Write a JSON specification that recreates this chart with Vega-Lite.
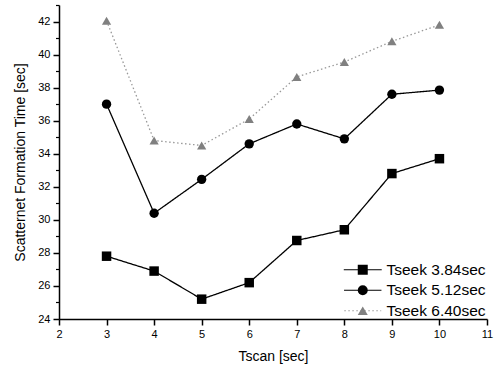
{
  "$schema": "https://vega.github.io/schema/vega-lite/v6.json",
  "width": 428,
  "height": 314,
  "autosize": {"type": "none"},
  "padding": {"left": 59, "top": 5, "right": 10, "bottom": 51},
  "background": "white",
  "config": {
    "view": {"stroke": null},
    "font": "Liberation Sans",
    "axis": {
      "grid": false,
      "domainColor": "#000",
      "domainWidth": 1.5,
      "tickColor": "#000",
      "tickWidth": 1.5,
      "tickSize": 6,
      "labelColor": "#000",
      "labelFontSize": 11,
      "labelFont": "Liberation Sans",
      "titleColor": "#000",
      "titleFontSize": 14,
      "titleFontWeight": "normal",
      "titleFont": "Liberation Sans"
    },
    "legend": {"labelFont": "Liberation Sans"}
  },
  "data": {
    "values": [
      {"tscan": 3, "time": 27.8, "series": "Tseek 3.84sec"},
      {"tscan": 4, "time": 26.9, "series": "Tseek 3.84sec"},
      {"tscan": 5, "time": 25.2, "series": "Tseek 3.84sec"},
      {"tscan": 6, "time": 26.2, "series": "Tseek 3.84sec"},
      {"tscan": 7, "time": 28.75, "series": "Tseek 3.84sec"},
      {"tscan": 8, "time": 29.4, "series": "Tseek 3.84sec"},
      {"tscan": 9, "time": 32.8, "series": "Tseek 3.84sec"},
      {"tscan": 10, "time": 33.7, "series": "Tseek 3.84sec"},
      {"tscan": 3, "time": 37.0, "series": "Tseek 5.12sec"},
      {"tscan": 4, "time": 30.4, "series": "Tseek 5.12sec"},
      {"tscan": 5, "time": 32.45, "series": "Tseek 5.12sec"},
      {"tscan": 6, "time": 34.6, "series": "Tseek 5.12sec"},
      {"tscan": 7, "time": 35.8, "series": "Tseek 5.12sec"},
      {"tscan": 8, "time": 34.9, "series": "Tseek 5.12sec"},
      {"tscan": 9, "time": 37.6, "series": "Tseek 5.12sec"},
      {"tscan": 10, "time": 37.85, "series": "Tseek 5.12sec"},
      {"tscan": 3, "time": 42.05, "series": "Tseek 6.40sec"},
      {"tscan": 4, "time": 34.8, "series": "Tseek 6.40sec"},
      {"tscan": 5, "time": 34.5, "series": "Tseek 6.40sec"},
      {"tscan": 6, "time": 36.1, "series": "Tseek 6.40sec"},
      {"tscan": 7, "time": 38.65, "series": "Tseek 6.40sec"},
      {"tscan": 8, "time": 39.55, "series": "Tseek 6.40sec"},
      {"tscan": 9, "time": 40.8, "series": "Tseek 6.40sec"},
      {"tscan": 10, "time": 41.8, "series": "Tseek 6.40sec"}
    ]
  },
  "layer": [
    {
      "mark": {"type": "line", "strokeWidth": 1.3},
      "encoding": {
        "x": {
          "field": "tscan", "type": "quantitative",
          "scale": {"domain": [2, 11], "nice": false, "zero": false},
          "axis": {"values": [2, 3, 4, 5, 6, 7, 8, 9, 10, 11], "title": "Tscan [sec]", "labelFlush": false, "labelPadding": 3, "titlePadding": 10}
        },
        "y": {
          "field": "time", "type": "quantitative",
          "scale": {"domain": [24, 43], "nice": false, "zero": false},
          "axis": {"values": [24, 26, 28, 30, 32, 34, 36, 38, 40, 42], "title": "Scatternet Formation Time [sec]", "orient": "left", "labelFlush": false, "labelPadding": 3, "titlePadding": 10}
        },
        "color": {
          "field": "series", "type": "nominal",
          "scale": {"domain": ["Tseek 3.84sec", "Tseek 5.12sec", "Tseek 6.40sec"], "range": ["#000000", "#000000", "#999999"]},
          "legend": {"title": null, "orient": "none", "legendX": 296, "legendY": 257, "padding": 0, "symbolType": "M-4,0H4", "symbolSize": 100, "symbolStrokeWidth": 1.2, "labelOffset": 16, "labelFontSize": 15.5, "labelColor": "#000", "rowPadding": 3.5}
        },
        "strokeDash": {
          "field": "series", "type": "nominal",
          "scale": {"domain": ["Tseek 3.84sec", "Tseek 5.12sec", "Tseek 6.40sec"], "range": [[1, 0], [1, 0], [1.5, 2.5]]},
          "legend": {"title": null, "orient": "none", "legendX": 296, "legendY": 257, "padding": 0, "symbolType": "M-4,0H4", "symbolSize": 100, "symbolStrokeWidth": 1.2, "labelOffset": 16, "labelFontSize": 15.5, "labelColor": "#000", "rowPadding": 3.5}
        }
      }
    },
    {
      "mark": {"type": "point", "filled": true, "opacity": 1},
      "encoding": {
        "x": {"field": "tscan", "type": "quantitative"},
        "y": {
          "field": "time", "type": "quantitative",
          "axis": {"values": [25, 27, 29, 31, 33, 35, 37, 39, 41, 43], "orient": "left", "labels": false, "domain": false, "title": null, "tickSize": 3.5, "tickWidth": 1.2}
        },
        "shape": {
          "field": "series", "type": "nominal",
          "scale": {"domain": ["Tseek 6.40sec", "Tseek 5.12sec", "Tseek 3.84sec"], "range": ["triangle-up", "circle", "square"]},
          "legend": {"title": null, "orient": "none", "legendX": 296, "legendY": 257, "padding": 0, "values": ["Tseek 3.84sec", "Tseek 5.12sec", "Tseek 6.40sec"], "symbolSize": 100, "symbolStrokeWidth": 0, "labelOffset": 16, "labelFontSize": 15.5, "labelOpacity": 0, "rowPadding": 3.5}
        },
        "fill": {
          "field": "series", "type": "nominal",
          "scale": {"domain": ["Tseek 6.40sec", "Tseek 5.12sec", "Tseek 3.84sec"], "range": ["#808080", "#000000", "#000000"]},
          "legend": {"title": null, "orient": "none", "legendX": 296, "legendY": 257, "padding": 0, "values": ["Tseek 3.84sec", "Tseek 5.12sec", "Tseek 6.40sec"], "symbolSize": 100, "symbolStrokeWidth": 0, "labelOffset": 16, "labelFontSize": 15.5, "labelOpacity": 0, "rowPadding": 3.5}
        },
        "size": {
          "field": "series", "type": "nominal",
          "scale": {"domain": ["Tseek 3.84sec", "Tseek 5.12sec", "Tseek 6.40sec"], "range": [90, 85, 40]},
          "legend": null
        }
      }
    }
  ],
  "resolve": {"axis": {"y": "independent"}}
}
